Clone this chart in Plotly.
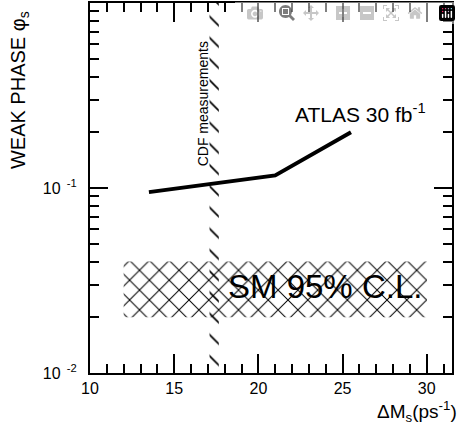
import plotly.graph_objects as go

# Data
atlas_dm = [13.5, 21.0, 25.5]
atlas_phi = [0.095, 0.117, 0.20]
sm_dm = [12.0, 30.0]
sm_phi = [0.02, 0.04]
cdf_dm = [17.1, 17.65]
cdf_phi = [0.01, 1.0]
x_ticks = [10, 15, 20, 25, 30]
y_ticks = [0.01, 0.1, 1.0]
y_ticktext = ["10<sup>\u00a0\u00a0-2</sup>", "10<sup>\u00a0\u00a0-1</sup>", ""]
y_minor = [m * d for d in (0.01, 0.1) for m in range(2, 10)]

FONT = "Liberation Sans, Arial, Helvetica, sans-serif"

fig = go.Figure()

# SM band (cross-hatched)
fig.add_trace(go.Scatter(
    x=[sm_dm[0], sm_dm[1], sm_dm[1], sm_dm[0], sm_dm[0]],
    y=[sm_phi[0], sm_phi[0], sm_phi[1], sm_phi[1], sm_phi[0]],
    mode="lines", fill="toself", line=dict(width=0),
    fillcolor="rgba(0,0,0,0)",
    fillpattern=dict(shape="x", fgcolor="black", bgcolor="rgba(0,0,0,0)",
                     size=14, solidity=0.14),
    hoverinfo="skip", showlegend=False))

# CDF band (hatched)
fig.add_trace(go.Scatter(
    x=[cdf_dm[0], cdf_dm[1], cdf_dm[1], cdf_dm[0], cdf_dm[0]],
    y=[cdf_phi[0], cdf_phi[0], cdf_phi[1], cdf_phi[1], cdf_phi[0]],
    mode="lines", fill="toself", line=dict(width=0),
    fillcolor="rgba(0,0,0,0)",
    fillpattern=dict(shape="\\", fgcolor="black", bgcolor="rgba(0,0,0,0)",
                     size=15, solidity=0.12),
    hoverinfo="skip", showlegend=False))

# ATLAS line
fig.add_trace(go.Scatter(
    x=atlas_dm, y=atlas_phi, mode="lines",
    line=dict(color="black", width=4), showlegend=False))

fig.update_layout(
    template="none",
    width=461, height=438,
    margin=dict(l=90, r=9, t=3, b=65, autoexpand=False),
    paper_bgcolor="white", plot_bgcolor="white",
    font=dict(family=FONT, color="black", size=16),
    showlegend=False,
)

fig.update_xaxes(
    automargin=False,
    range=[10, 31.5], tickmode="array", tickvals=x_ticks, ticks="inside", ticklen=19, tickwidth=2,
    tickcolor="black", showline=True, linewidth=2, linecolor="black",
    mirror="allticks", showgrid=False, zeroline=False,
    tickfont=dict(size=16, family=FONT, color="black"),
    minor=dict(dtick=1, tick0=10, ticks="inside", ticklen=9, tickwidth=2, tickcolor="black", showgrid=False),
)
fig.update_yaxes(
    automargin=False,
    type="log", range=[-2, 0], tickmode="array", tickvals=y_ticks, ticktext=y_ticktext,
    ticks="inside", ticklen=18, tickwidth=2, tickcolor="black",
    showline=True, linewidth=2, linecolor="black", mirror="allticks",
    showgrid=False, zeroline=False, tickfont=dict(size=16, family=FONT, color="black"),
    ticklabelstandoff=8,
    minor=dict(tickmode="array", tickvals=y_minor, ticks="inside", ticklen=9, tickwidth=2,
               tickcolor="black", showgrid=False),
)

fig.add_annotation(x=22.08, y=-0.595, xref="x", yref="y", text="ATLAS 30 fb<sup>-1</sup>",
                   showarrow=False, xanchor="left", yanchor="middle",
                   font=dict(size=21, family=FONT, color="black"))
fig.add_annotation(x=18.1, y=-1.53, xref="x", yref="y", text="SM 95% C.L.",
                   showarrow=False, xanchor="left", yanchor="middle",
                   font=dict(size=33, family=FONT, color="black"))
fig.add_annotation(x=16.73, y=-0.546, xref="x", yref="y", text="CDF measurements",
                   showarrow=False, textangle=-90, xanchor="center", yanchor="middle",
                   font=dict(size=14, family=FONT, color="black"))
fig.add_annotation(x=-0.193, y=0.765, xref="paper", yref="paper", text="WEAK PHASE \u03c6<sub>s</sub>",
                   showarrow=False, textangle=-90, xanchor="center", yanchor="middle",
                   font=dict(size=20, family=FONT, color="black"))
fig.add_annotation(x=1.02, y=-0.105, xref="paper", yref="paper", text="\u0394M<sub>s</sub>(ps<sup>-1</sup>)",
                   showarrow=False, xanchor="right", yanchor="middle",
                   font=dict(size=19, family=FONT, color="black"))

fig.write_html("out.html", post_script="document.body.style.margin='0px';document.body.style.overflow='hidden';")
